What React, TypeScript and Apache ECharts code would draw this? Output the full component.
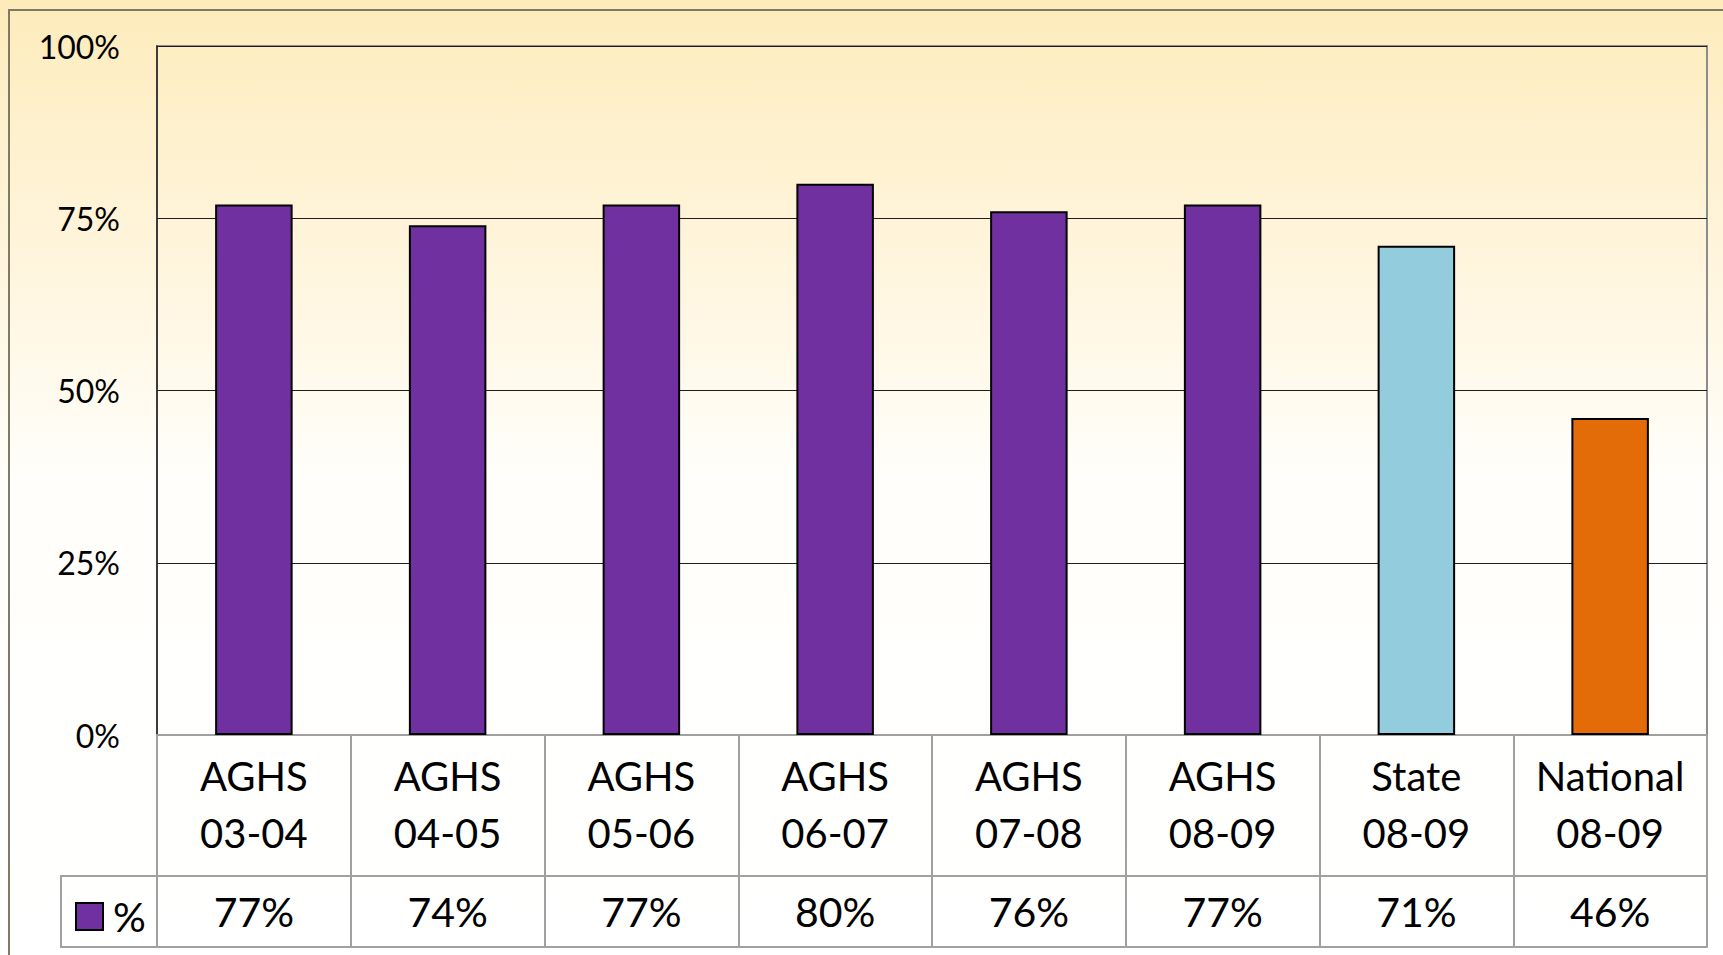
import React, { useEffect, useRef } from "react";
import * as echarts from "echarts";

// ---- data ----
const categories = [
  "AGHS\n03-04",
  "AGHS\n04-05",
  "AGHS\n05-06",
  "AGHS\n06-07",
  "AGHS\n07-08",
  "AGHS\n08-09",
  "State\n08-09",
  "National\n08-09",
];
const values = [77, 74, 77, 80, 76, 77, 71, 46];
const seriesName = "%";
const yTicks = [0, 25, 50, 75, 100];

// ---- style ----
const FONT = "Lato, 'Noto Sans', sans-serif";
const PURPLE = "#7030A0";
const BLUE = "#93CDDD";
const ORANGE = "#E36C09";
const TABLE_LINE = "#A0A0A0";
const colorFor = (cat: string) =>
  cat.startsWith("State") ? BLUE : cat.startsWith("National") ? ORANGE : PURPLE;

export default function App() {
  const ref = useRef<HTMLDivElement>(null);
  useEffect(() => {
    if (!ref.current) return;
    const chart = echarts.init(ref.current, null, { renderer: "svg" });
    const gridLeft = 157;
    const gridRight = 16;
    const gridTop = 46;
    const gridBottom = 220;
    const axisY = 955 - gridBottom; // 735
    const row2Y = 876;
    const row3Y = 947;
    chart.setOption({
      animation: false,
      backgroundColor: {
        type: "linear",
        x: 0,
        y: 0,
        x2: 0,
        y2: 1,
        colorStops: [
          { offset: 0, color: "#FDEBBA" },
          { offset: 0.12, color: "#FEF0CB" },
          { offset: 0.3, color: "#FFF6E0" },
          { offset: 0.5, color: "#FFFEFA" },
          { offset: 1, color: "#FFFFFF" },
        ],
      },
      grid: {
        left: gridLeft,
        right: gridRight,
        top: gridTop,
        bottom: gridBottom,
        show: true,
        borderColor: "#8C8C8C",
        borderWidth: 2,
        backgroundColor: "transparent",
      },
      legend: {
        show: true,
        left: 75,
        top: 896,
        padding: 0,
        itemWidth: 27,
        itemHeight: 27,
        itemGap: 6,
        icon: "rect",
        textStyle: { fontFamily: FONT, fontSize: 41, color: "#000", padding: [0, 0, 16, 5] },
        data: [seriesName],
      },
      xAxis: [
        {
          type: "category",
          data: categories,
          position: "bottom",
          axisLine: { show: true, lineStyle: { color: TABLE_LINE, width: 2 } },
          axisTick: {
            show: true,
            alignWithLabel: false,
            length: row3Y - axisY,
            lineStyle: { color: TABLE_LINE, width: 2 },
          },
          axisLabel: {
            interval: 0,
            margin: 12,
            fontFamily: FONT,
            fontSize: 40,
            lineHeight: 57,
            color: "#000",
          },
          splitLine: { show: false },
        },
        {
          type: "category",
          data: values.map((v) => v + "%"),
          position: "bottom",
          offset: row2Y - axisY,
          axisLine: { show: true, lineStyle: { color: TABLE_LINE, width: 2 } },
          axisTick: { show: false },
          axisLabel: {
            interval: 0,
            margin: 0,
            fontFamily: FONT,
            fontSize: 41,
            lineHeight: 70,
            color: "#000",
          },
        },
        {
          type: "category",
          data: categories.map(() => ""),
          position: "bottom",
          offset: row3Y - axisY,
          axisLine: { show: true, lineStyle: { color: TABLE_LINE, width: 2 } },
          axisTick: { show: false },
          axisLabel: { show: false },
        },
      ],
      yAxis: {
        type: "value",
        min: yTicks[0],
        max: yTicks[yTicks.length - 1],
        interval: yTicks[1] - yTicks[0],
        axisLine: { show: true, lineStyle: { color: "#222", width: 1.5 } },
        axisTick: { show: false },
        axisLabel: {
          formatter: "{value}%",
          fontFamily: FONT,
          fontSize: 32,
          color: "#000",
          margin: 37,
        },
        splitLine: { show: true, lineStyle: { color: "#1E1E1E", width: 1.2 } },
      },
      series: [
        {
          name: seriesName,
          type: "bar",
          xAxisIndex: 0,
          data: values.map((v, i) => ({
            value: v,
            itemStyle: { color: colorFor(categories[i]) },
          })),
          barWidth: "40%",
          itemStyle: { color: PURPLE, borderColor: "#000", borderWidth: 2 },
        },
      ],
      graphic: [
        {
          type: "polyline",
          shape: { points: [[9, 955], [9, 10], [1723, 10]] },
          style: { stroke: "#7F7A63", lineWidth: 2, fill: "none" },
          silent: true,
        },
        {
          type: "polyline",
          shape: { points: [[gridLeft, row2Y], [61, row2Y], [61, row3Y], [gridLeft, row3Y]] },
          style: { stroke: TABLE_LINE, lineWidth: 2, fill: "none" },
          silent: true,
        },
      ],
    });
    return () => chart.dispose();
  }, []);
  return (
    <div
      ref={ref}
      style={{ position: "fixed", left: 0, top: 0, width: 1723, height: 955 }}
    />
  );
}
